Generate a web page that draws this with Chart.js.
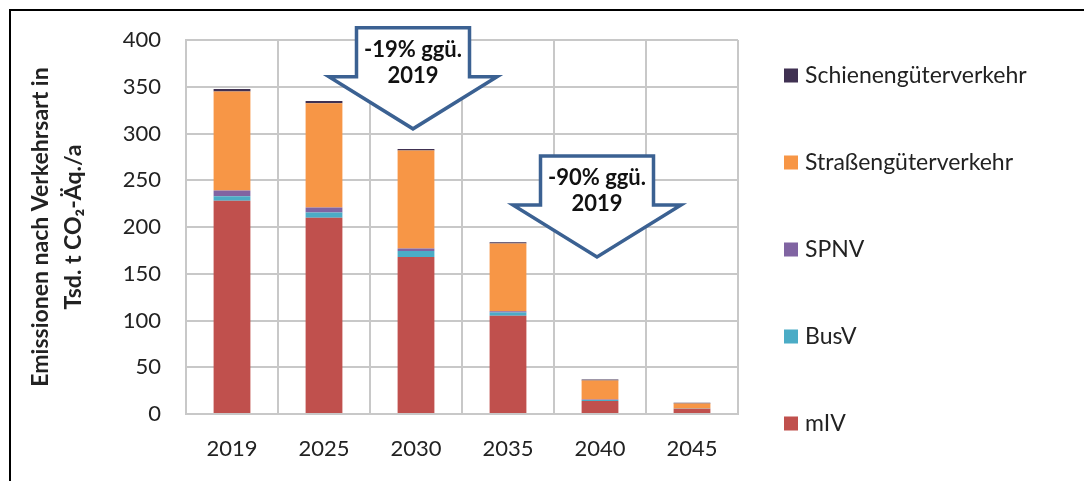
<!DOCTYPE html>
<html><head><meta charset="utf-8">
<script src="https://cdn.jsdelivr.net/npm/chart.js@4"></script>
<style>
html,body{margin:0;padding:0;background:#fff;overflow:hidden;}
#wrap{position:relative;width:1084px;height:481px;overflow:hidden;}
#frame{position:absolute;left:9px;top:9px;width:1200px;height:600px;border-left:2px solid #000;border-top:2px solid #000;pointer-events:none;}
canvas{position:absolute;left:0;top:0;}
</style></head><body>
<div id="wrap"><div id="frame"></div><canvas id="c" width="1084" height="481"></canvas></div>
<script>
const categories = ['2019', '2025', '2030', '2035', '2040', '2045'];
const seriesNames = ['mIV', 'BusV', 'SPNV', 'Straßengüterverkehr', 'Schienengüterverkehr'];
const mIV = [228, 210, 168, 105, 14, 5.5];
const busV = [5, 5.5, 6.4, 3.6, 1, 0.3];
const spnv = [6, 5.3, 2.5, 1.4, 0.5, 0.2];
const strassen = [106, 111.5, 105, 72.4, 20.3, 5.2];
const schiene = [2.5, 2.5, 1.5, 1.4, 1, 0.8];
const seriesColors = ['#C0504D', '#4BACC6', '#8064A2', '#F79646', '#403152'];
const yMin = 0, yMax = 400, yStep = 50;
const yTitle = ['Emissionen nach Verkehrsart in', 'Tsd. t CO\u2082-\u00C4q./a'];
const arrowNotes = [
  { category: '2030', tip: 305, lines: ['-19% gg\u00FC.', '2019'] },
  { category: '2040', tip: 168, lines: ['-90% gg\u00FC.', '2019'] }
];

const seriesValues = [mIV, busV, spnv, strassen, schiene];
const FONT = 'Lato, "Open Sans", sans-serif';
const TEXT = '#222222';
const GRID = '#c8c8c8';

const legendPlugin = {
  id: 'sideLegend',
  afterDraw(chart) {
    const ctx = chart.ctx;
    const ds = chart.data.datasets.slice().reverse();
    ctx.save();
    ds.forEach((d, i) => {
      const cy = 75.5 + i * 87;
      ctx.fillStyle = d.backgroundColor;
      ctx.fillRect(784, cy - 7, 14, 14);
      ctx.fillStyle = TEXT;
      ctx.font = '23px ' + FONT;
      ctx.textBaseline = 'middle';
      ctx.textAlign = 'left';
      ctx.fillText(d.label, 805, cy);
    });
    ctx.restore();
  }
};

const arrowPlugin = {
  id: 'arrows',
  afterDraw(chart) {
    const ctx = chart.ctx;
    const xs = chart.scales.x, ys = chart.scales.y;
    ctx.save();
    arrowNotes.forEach(a => {
      const x = xs.getPixelForValue(categories.indexOf(a.category)) - 3;
      const tipY = ys.getPixelForValue(a.tip);
      const headH = 52, shaftH = 49, sh = 56.5, hh = 84;
      const wingY = tipY - headH, top = wingY - shaftH;
      ctx.beginPath();
      ctx.moveTo(x - sh, top);
      ctx.lineTo(x + sh, top);
      ctx.lineTo(x + sh, wingY);
      ctx.lineTo(x + hh, wingY);
      ctx.lineTo(x, tipY);
      ctx.lineTo(x - hh, wingY);
      ctx.lineTo(x - sh, wingY);
      ctx.closePath();
      ctx.fillStyle = '#ffffff';
      ctx.fill();
      ctx.lineWidth = 3.5;
      ctx.lineJoin = 'miter';
      ctx.strokeStyle = '#3B6192';
      ctx.stroke();
      ctx.fillStyle = '#111111';
      ctx.font = 'bold 22px ' + FONT;
      ctx.textAlign = 'center';
      ctx.textBaseline = 'middle';
      ctx.fillText(a.lines[0], x, top + 22);
      ctx.fillText(a.lines[1], x, top + 48);
    });
    ctx.restore();
  }
};

new Chart(document.getElementById('c'), {
  type: 'bar',
  data: {
    labels: categories,
    datasets: seriesNames.map((n, i) => ({
      label: n,
      data: seriesValues[i],
      backgroundColor: seriesColors[i],
      borderWidth: 0,
      barPercentage: 0.4,
      categoryPercentage: 1.0
    }))
  },
  options: {
    responsive: false,
    devicePixelRatio: 1,
    animation: false,
    layout: { padding: { left: 0, top: 40, right: 346, bottom: 0 } },
    plugins: { legend: { display: false }, tooltip: { enabled: false } },
    scales: {
      x: {
        stacked: true,
        grid: { color: GRID, lineWidth: 2, drawTicks: false, offset: true },
        border: { color: GRID, width: 2 },
        ticks: { color: TEXT, font: { family: FONT, size: 22 }, padding: 22 },
        afterFit(s) { s.height = 67; }
      },
      y: {
        stacked: true,
        min: yMin, max: yMax,
        grid: { color: GRID, lineWidth: 2, drawTicks: false },
        border: { color: GRID, width: 2 },
        ticks: { stepSize: yStep, color: TEXT, font: { family: FONT, size: 22 }, padding: 25 },
        title: {
          display: true,
          text: yTitle,
          color: TEXT,
          font: { family: FONT, size: 23, weight: 'bold', lineHeight: 1.45 },
          padding: { top: 24, bottom: 0 }
        },
        afterFit(s) { s.width = 186; }
      }
    }
  },
  plugins: [legendPlugin, arrowPlugin]
});
</script>
</body></html>
